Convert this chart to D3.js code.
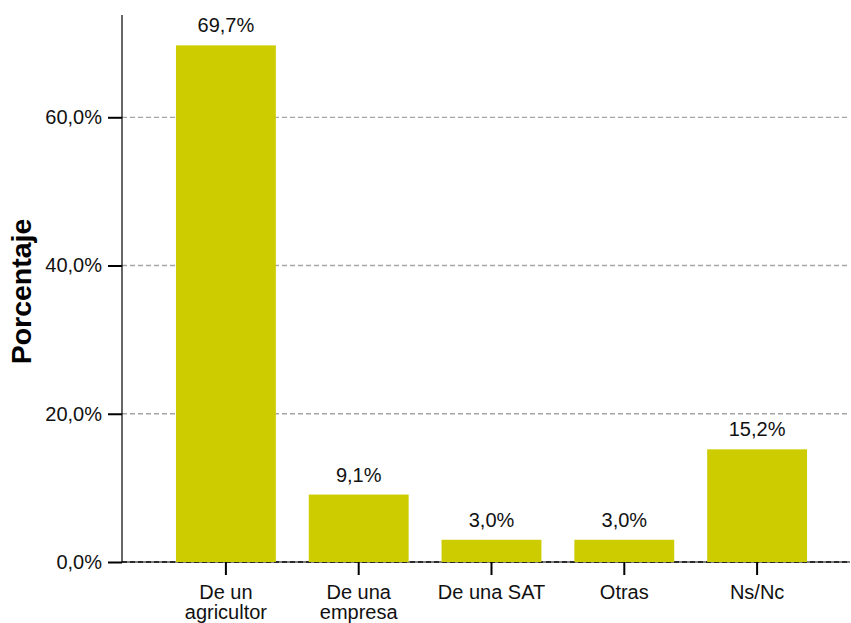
<!DOCTYPE html>
<html>
<head>
<meta charset="utf-8">
<script src="https://cdn.jsdelivr.net/npm/d3@7"></script>
<style>
  html, body { margin: 0; padding: 0; background: #fff; }
  svg { display: block; font-family: "Liberation Sans", Arial, sans-serif; }
</style>
</head>
<body>
<svg id="chart" width="851" height="623"></svg>
<script>
const categories = [["De un", "agricultor"], ["De una", "empresa"], ["De una SAT"], ["Otras"], ["Ns/Nc"]];
const values = [69.7, 9.1, 3.0, 3.0, 15.2];
const yTicks = [0, 20, 40, 60];
const yTitle = "Porcentaje";

const W = 851, H = 623;
const svg = d3.select("#chart");
const fmt = v => d3.format(".1f")(v).replace(".", ",") + "%";

const x = d3.scaleBand()
  .domain(categories.map((c, i) => i))
  .range([159.5, 823.5])
  .paddingInner(0.248)
  .paddingOuter(0.124);

const y = d3.scaleLinear().domain([0, 73.8]).range([562, 15]);
const xLeft = 122, xRight = 850;

// gridlines
const grid = svg.append("g");
grid.selectAll("line.g").data(yTicks.filter(t => t > 0)).join("line")
  .attr("x1", xLeft).attr("x2", xRight)
  .attr("y1", d => y(d)).attr("y2", d => y(d))
  .attr("stroke", "#a6a6a6").attr("stroke-width", 1.3)
  .attr("stroke-dasharray", "5,3");
// zero line
grid.append("line")
  .attr("x1", xLeft).attr("x2", xRight)
  .attr("y1", y(0)).attr("y2", y(0))
  .attr("stroke", "#555").attr("stroke-width", 1.3);
grid.append("line")
  .attr("x1", xLeft).attr("x2", xRight)
  .attr("y1", y(0)).attr("y2", y(0))
  .attr("stroke", "#111").attr("stroke-width", 1.3)
  .attr("stroke-dasharray", "5,3");

// bars
svg.append("g").selectAll("rect").data(values).join("rect")
  .attr("x", (d, i) => x(i))
  .attr("width", x.bandwidth())
  .attr("y", d => y(d))
  .attr("height", d => y(0) - y(d))
  .attr("fill", "#cccc00");

// value labels with white background
const labels = svg.append("g").selectAll("g").data(values).join("g")
  .attr("transform", (d, i) => `translate(${x(i) + x.bandwidth() / 2},${y(d) - 13})`);
labels.each(function(d) {
  const g = d3.select(this);
  const t = g.append("text")
    .attr("text-anchor", "middle")
    .attr("font-size", 20)
    .attr("fill", "#111")
    .text(fmt(d));
  const bb = t.node().getBBox();
  g.insert("rect", "text")
    .attr("x", bb.x - 3).attr("y", bb.y - 2)
    .attr("width", bb.width + 6).attr("height", bb.height + 4)
    .attr("fill", "#fff");
});

// y axis
const yAxis = d3.axisLeft(y).tickValues(yTicks).tickSize(14).tickPadding(6).tickFormat(fmt);
const gy = svg.append("g").attr("transform", `translate(${xLeft},0)`).call(yAxis);
gy.select(".domain").remove();
gy.selectAll(".tick line").attr("stroke", "#000").attr("stroke-width", 2);
gy.selectAll(".tick text").attr("font-size", 20).attr("fill", "#111").attr("font-family", "Liberation Sans, Arial, sans-serif");
svg.append("line")
  .attr("x1", xLeft).attr("x2", xLeft)
  .attr("y1", y.range()[1]).attr("y2", y(0))
  .attr("stroke", "#000").attr("stroke-width", 1.2);

// x axis
const xAxis = d3.axisBottom(x).tickSize(13).tickFormat(() => "");
const gx = svg.append("g").attr("transform", `translate(0,${y(0)})`).call(xAxis);
gx.select(".domain").remove();
gx.selectAll(".tick line").attr("stroke", "#000").attr("stroke-width", 2);
gx.selectAll(".tick").each(function(d) {
  const t = d3.select(this).append("text")
    .attr("text-anchor", "middle")
    .attr("font-size", 20)
    .attr("fill", "#111")
    .attr("font-family", "Liberation Sans, Arial, sans-serif");
  categories[d].forEach((line, k) => {
    t.append("tspan").attr("x", 0).attr("y", 37 + k * 19.5).text(line);
  });
});

// y title
svg.append("text")
  .attr("transform", `translate(31,${(y.range()[0] + y.range()[1]) / 2 + 3}) rotate(-90)`)
  .attr("text-anchor", "middle")
  .attr("font-size", 28.5)
  .attr("font-weight", "bold")
  .attr("fill", "#000")
  .text(yTitle);
</script>
</body>
</html>
